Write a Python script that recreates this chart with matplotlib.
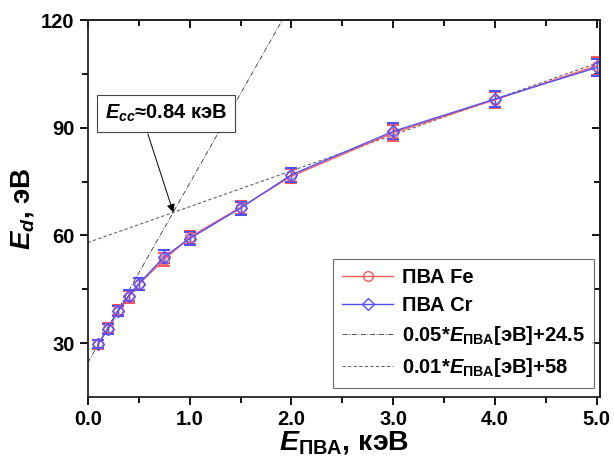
import matplotlib
matplotlib.use("Agg")
import matplotlib.pyplot as plt
import numpy as np

plt.rcParams["font.family"] = ["Liberation Sans", "DejaVu Sans"]
plt.rcParams["font.weight"] = "bold"
plt.rcParams["mathtext.fontset"] = "custom"
plt.rcParams["mathtext.rm"] = "Liberation Sans:bold"
plt.rcParams["mathtext.it"] = "Liberation Sans:italic:bold"
plt.rcParams["mathtext.bf"] = "Liberation Sans:bold"

# energy of primary knock-on atom, keV
e_pka = [0.1, 0.2, 0.3, 0.4, 0.5, 0.75, 1.0, 1.5, 2.0, 3.0, 4.0, 5.0]
# threshold displacement energy, eV
ed_fe = [29.6, 34.2, 39.2, 42.8, 46.4, 53.2, 59.5, 67.8, 76.5, 88.6, 97.8, 107.3]
ed_cr = [29.7, 34.0, 39.0, 43.2, 46.5, 54.0, 59.1, 67.6, 76.9, 89.0, 98.0, 106.8]
err_fe = [1.2, 1.4, 1.4, 1.6, 1.6, 1.8, 1.8, 1.8, 2.0, 2.2, 2.2, 2.5]
err_cr = [1.2, 1.4, 1.4, 1.6, 1.6, 1.8, 1.8, 1.8, 2.0, 2.2, 2.2, 2.5]

# linear fits: E_d = k*E[eV] + b
k_low, b_low = 0.05, 24.5
k_high, b_high = 0.01, 58.0
e_cross = 0.84

red = "#ff5a5a"
blue = "#5050ff"

fig = plt.figure(figsize=(6.14, 4.68), dpi=100)
ax = fig.add_axes([0.143, 0.152, 0.834, 0.805])

x_low = np.linspace(0, 2.0, 50)
ax.plot(x_low, k_low * 1000 * x_low + b_low, color="#333333", lw=0.6,
        dashes=(6, 2, 1, 2), label=r"0.05*$E_{\mathrm{ПВА}}$[эВ]+24.5")
x_high = np.linspace(0, 5.03, 50)
ax.plot(x_high, k_high * 1000 * x_high + b_high, color="#666666", lw=0.8,
        dashes=(3, 2), label=r"0.01*$E_{\mathrm{ПВА}}$[эВ]+58")

ax.errorbar(e_pka, ed_fe, yerr=err_fe, fmt="none", ecolor=red, elinewidth=1.0,
            capsize=4, capthick=1.5)
ax.errorbar(e_pka, ed_cr, yerr=err_cr, fmt="none", ecolor=blue, elinewidth=1.0,
            capsize=4, capthick=1.5)
ax.plot(e_pka, ed_fe, color=red, lw=1.0, marker="o", ms=7, mfc="none",
        mec=red, mew=1.0, label="ПВА Fe")
ax.plot(e_pka, ed_cr, color=blue, lw=1.0, marker="D", ms=6.5, mfc="none",
        mec=blue, mew=1.0, label="ПВА Cr")

ax.set_xlim(0, 5.03)
ax.set_ylim(15, 120)
xmaj = [0, 1, 2, 3, 4, 5]
xmin = [0.5, 1.5, 2.5, 3.5, 4.5]
ymaj = [30, 60, 90, 120]
ymin = [45, 75, 105]
ax.set_xticks(xmaj)
ax.set_xticklabels(["0.0", "1.0", "2.0", "3.0", "4.0", "5.0"])
ax.set_xticks(xmin, minor=True)
ax.set_yticks(ymaj)
ax.set_yticks(ymin, minor=True)
ax.tick_params(which="both", labelsize=14.5, width=1.3, direction="out")
ax.tick_params(which="major", length=6)
ax.tick_params(which="minor", length=4)
for lbl in ax.get_xticklabels() + ax.get_yticklabels():
    lbl.set_fontweight("bold")

# mirrored ticks on top and right point inward
top = ax.secondary_xaxis("top")
top.set_xticks(xmaj)
top.set_xticks(xmin, minor=True)
top.tick_params(which="both", direction="in", width=1.3, labeltop=False)
top.tick_params(which="major", length=6)
top.tick_params(which="minor", length=4)
right = ax.secondary_yaxis("right")
right.set_yticks(ymaj)
right.set_yticks(ymin, minor=True)
right.tick_params(which="both", direction="in", width=1.3, labelright=False)
right.tick_params(which="major", length=6)
right.tick_params(which="minor", length=4)

for sp in list(ax.spines.values()) + [top.spines["top"], right.spines["right"]]:
    sp.set_linewidth(1.3)
    sp.set_color("#222222")

ax.set_xlabel(r"$E_{\mathrm{ПВА}}$, кэВ", fontsize=20.5, fontweight="bold", labelpad=0)
ax.set_ylabel(r"$E_d$, эВ", fontsize=20, fontweight="bold", labelpad=4)

# crossing point of the two fits
ax.text(0.77, 94.0, r"$E_{cc}$≈0.84 кэВ", fontsize=14.5, fontweight="bold",
        ha="center", va="center", zorder=5,
        bbox=dict(boxstyle="square,pad=0.4", fc="white", ec="#444444", lw=0.8))
ax.annotate("", xy=(e_cross, k_high * 1000 * e_cross + b_high),
            xytext=(0.59, 88.3),
            arrowprops=dict(arrowstyle="-|>", color="black", lw=0.7,
                            shrinkA=0, shrinkB=0, mutation_scale=12))

handles, labels = ax.get_legend_handles_labels()
order = [2, 3, 0, 1]
leg = ax.legend([handles[i] for i in order], [labels[i] for i in order],
                loc="lower right", bbox_to_anchor=(0.988, 0.024),
                borderaxespad=0, prop={"size": 14.5, "weight": "bold"},
                frameon=True, fancybox=False, edgecolor="#444444",
                handlelength=2.5, handletextpad=0.45, labelspacing=0.45,
                borderpad=0.45)
leg.get_frame().set_linewidth(0.8)

fig.savefig("out.png", dpi=100)
